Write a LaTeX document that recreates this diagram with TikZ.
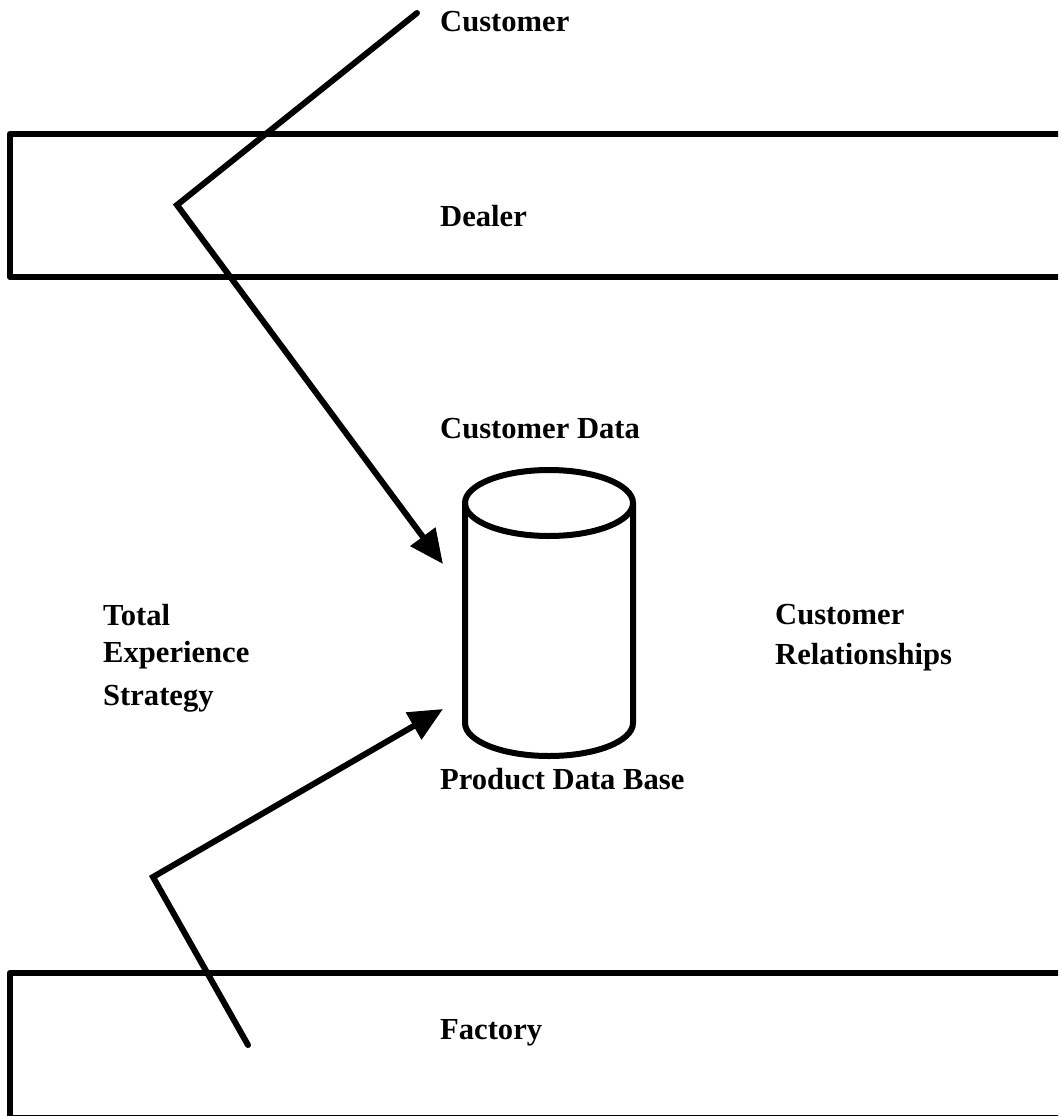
\documentclass[tikz,border=0pt]{standalone}
\usepackage{fontspec}
\setmainfont{Liberation Serif}
\usetikzlibrary{arrows.meta}
\tikzset{
  lbl/.style={inner sep=0pt, font=\bfseries\fontsize{30.6}{40}\selectfont, align=left},
  band/.style={line width=6.5pt, line join=round},
  flow/.style={line width=6pt, line cap=round, -{Triangle[length=34pt,width=30pt]}},
  drum/.style={line width=6pt},
}

\begin{document}
\begin{tikzpicture}[x=1pt,y=-1pt]
\clip (0,0) rectangle (1058,1116);
% the two open bands
\draw[band] (1080,134) -- (10,134) -- (10,277) -- (1080,277);
\draw[band] (1080,973) -- (10,973) -- (10,1118) -- (1080,1118);
% data store
\draw[drum] (465,503) -- (465,723) arc[start angle=180, end angle=360, x radius=84pt, y radius=33pt] -- (633,503);
\draw[drum] (549,503) ellipse [x radius=84pt, y radius=33pt];
% labels
\node[lbl, anchor=base west] (customer) at (440,32) {Customer};
\node[lbl, anchor=base west] (dealer) at (440,226) {Dealer};
\node[lbl, anchor=base west] (custdata) at (440,438) {Customer Data};
\node[lbl, anchor=north west] (total) at (103,604) {Total\\[-3pt]Experience\\[3pt]Strategy};
\node[lbl, anchor=north west] (relations) at (775,604) {Customer\\Relationships};
\node[lbl, anchor=base west] (proddb) at (440,789) {Product Data Base};
\node[lbl, anchor=base west] (factory) at (440,1039) {Factory};
% flows into the store
\coordinate (c0) at (417,13);
\coordinate (c1) at (177,205);
\coordinate (c2) at (443,564);
\coordinate (f0) at (248,1045);
\coordinate (f1) at (153,877);
\coordinate (f2) at (443,709);
\draw[flow] (c0) -- (c1) -- (c2);
\draw[flow] (f0) -- (f1) -- (f2);
\end{tikzpicture}
\end{document}
